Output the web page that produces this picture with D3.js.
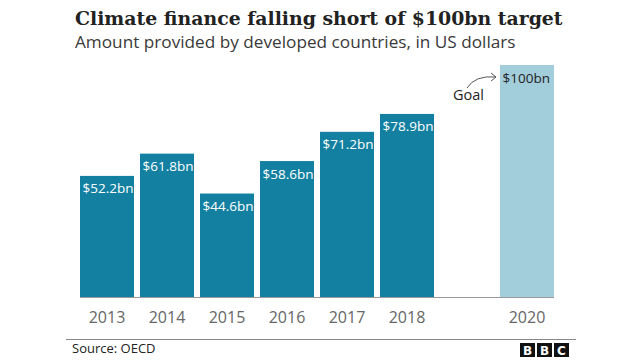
<!DOCTYPE html>
<html>
<head>
<meta charset="utf-8">
<script src="https://cdn.jsdelivr.net/npm/d3@7"></script>
<style>
  html, body { margin: 0; padding: 0; background: #fff; }
  svg { display: block; }
</style>
</head>
<body>
<svg id="chart" width="640" height="360"></svg>
<script>
const categories = ["2013", "2014", "2015", "2016", "2017", "2018", "", "2020"];
const values = [52.2, 61.8, 44.6, 58.6, 71.2, 78.9, null, 100];
const valueLabels = ["$52.2bn", "$61.8bn", "$44.6bn", "$58.6bn", "$71.2bn", "$78.9bn", "", "$100bn"];
const goalFlags = [false, false, false, false, false, false, false, true];
const titleText = "Climate finance falling short of $100bn target";
const subtitleText = "Amount provided by developed countries, in US dollars";
const sourceText = "Source: OECD";
const goalText = "Goal";

const svg = d3.select("#chart");
const sans = "'Open Sans', 'Noto Sans', sans-serif";

function fitText(sel, targetWidth) {
  const node = sel.node();
  const fs = parseFloat(sel.attr("font-size"));
  const w = node.getComputedTextLength();
  if (w > 0) sel.attr("font-size", (fs * targetWidth / w).toFixed(2));
}

// Title & subtitle
const title = svg.append("text").attr("x", 75).attr("y", 25)
  .attr("font-family", "'DejaVu Serif', 'Liberation Serif', serif")
  .attr("font-weight", "bold").attr("font-size", 22).attr("fill", "#222")
  .text(titleText);
fitText(title, 488);

const sub = svg.append("text").attr("x", 75).attr("y", 48)
  .attr("font-family", sans).attr("font-size", 17).attr("fill", "#3a3a3a")
  .text(subtitleText);
fitText(sub, 441);

// Scales
const x = d3.scaleBand().domain(categories.map((c, i) => i)).range([77, 557])
  .paddingInner(0.1).paddingOuter(0.05);
const y = d3.scaleLinear().domain([0, 100]).range([297, 65]);

const data = categories.map((c, i) => ({ i, cat: c, v: values[i], label: valueLabels[i], goal: goalFlags[i] }))
  .filter(d => d.v !== null);

// Bars
svg.append("g").selectAll("rect").data(data).join("rect")
  .attr("x", d => x(d.i))
  .attr("y", d => y(d.v))
  .attr("width", x.bandwidth())
  .attr("height", d => y(0) - y(d.v))
  .attr("fill", d => d.goal ? "#a2cddb" : "#1380a1");

// Baseline
svg.append("line")
  .attr("x1", x(0)).attr("x2", x(categories.length - 1) + x.bandwidth())
  .attr("y1", y(0) + 0.5).attr("y2", y(0) + 0.5)
  .attr("stroke", "#9a9a9a").attr("stroke-width", 1);

// Value labels
svg.append("g").selectAll("text").data(data).join("text")
  .attr("x", d => x(d.i) + 2.5)
  .attr("y", d => y(d.v) + 17.5)
  .attr("font-family", sans).attr("font-size", 13.5)
  .attr("fill", d => d.goal ? "#222" : "#fff")
  .text(d => d.label);

// X axis
const xAxis = d3.axisBottom(x).tickSize(0).tickPadding(0).tickFormat(i => categories[i]);
const gx = svg.append("g").attr("transform", `translate(0,${y(0)})`).call(xAxis);
gx.select(".domain").remove();
gx.selectAll("text").attr("font-family", sans).attr("font-size", 16)
  .attr("fill", "#666").attr("dy", null).attr("y", 26);

// Goal annotation
const gi = categories.length - 1;
svg.append("text").attr("x", 453).attr("y", 100)
  .attr("font-family", sans).attr("font-size", 14.5).attr("fill", "#222")
  .text(goalText);
const ax0 = 467, ay0 = 88, ax1 = x(gi) - 4, ay1 = y(100) + 12;
svg.append("path")
  .attr("d", `M${ax0},${ay0} Q${ax0 + 8},${ay1 - 2} ${ax1},${ay1}`)
  .attr("fill", "none").attr("stroke", "#555").attr("stroke-width", 1);
svg.append("path")
  .attr("d", `M${ax1 - 5},${ay1 - 4} L${ax1},${ay1} L${ax1 - 5},${ay1 + 4}`)
  .attr("fill", "none").attr("stroke", "#555").attr("stroke-width", 1);

// Footer
svg.append("line").attr("x1", 66).attr("x2", 576).attr("y1", 339.5).attr("y2", 339.5)
  .attr("stroke", "#888").attr("stroke-width", 1);
svg.append("text").attr("x", 72).attr("y", 353)
  .attr("font-family", sans).attr("font-size", 13).attr("fill", "#222")
  .text(sourceText);

// BBC logo
const logo = svg.append("g").attr("transform", "translate(520,343)");
["B", "B", "C"].forEach((ch, k) => {
  logo.append("rect").attr("x", k * 17).attr("y", 0).attr("width", 15).attr("height", 14).attr("fill", "#111");
  logo.append("text").attr("x", k * 17 + 7.5).attr("y", 11.5).attr("text-anchor", "middle")
    .attr("font-family", "'DejaVu Sans', sans-serif").attr("font-weight", "bold")
    .attr("font-size", 12).attr("fill", "#fff").text(ch);
});
</script>
</body>
</html>
